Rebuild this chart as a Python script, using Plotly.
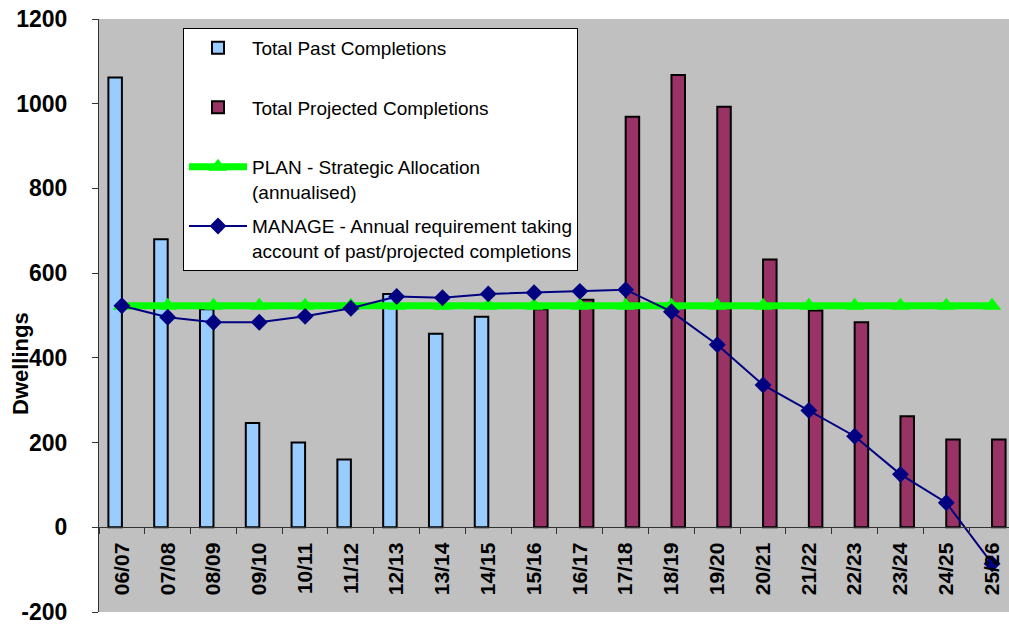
import plotly.graph_objects as go

categories = ["06/07", "07/08", "08/09", "09/10", "10/11", "11/12", "12/13", "13/14",
              "14/15", "15/16", "16/17", "17/18", "18/19", "19/20", "20/21", "21/22",
              "22/23", "23/24", "24/25", "25/26"]

past_completions = [1062, 680, 515, 246, 200, 160, 551, 457, 497,
                    None, None, None, None, None, None, None, None, None, None, None]

projected_completions = [None, None, None, None, None, None, None, None, None,
                         515, 537, 969, 1068, 993, 632, 512, 484, 262, 207, 207]

plan_allocation = [523, 523, 523, 523, 523, 523, 523, 523, 523, 523,
                   523, 523, 523, 523, 523, 523, 523, 523, 523, 523]

manage_requirement = [523, 496, 484, 484, 498, 517, 545, 542, 551, 554,
                      557, 561, 509, 431, 336, 276, 215, 125, 58, -86]

y_ticks = [-200, 0, 200, 400, 600, 800, 1000, 1200]
y_tick_labels = ["-200", "0", "200", "400", "600", "800", "1000", "1200"]

FONT = "Arial, Liberation Sans, sans-serif"

W, H = 1009, 625
ML, MR, MT, MB = 99, 0, 19, 13
PW, PH = W - ML - MR, H - MT - MB

fig = go.Figure()

fig.add_trace(go.Bar(
    x=categories, y=past_completions, name="Total Past Completions<br>\u00a0",
    marker=dict(color="#99CCFF", line=dict(color="black", width=2)),
    legendgroup="a",
))
fig.add_trace(go.Bar(
    x=categories, y=projected_completions, name="Total Projected Completions<br>\u00a0",
    marker=dict(color="#993366", line=dict(color="black", width=2)),
    legendgroup="b",
))
fig.add_trace(go.Scatter(
    x=categories, y=plan_allocation, mode="lines+markers",
    name="PLAN - Strategic Allocation<br>(annualised)",
    line=dict(color="#00FF00", width=7),
    marker=dict(symbol="triangle-up", size=16, color="#00FF00"),
    legendgroup="c",
))
fig.add_trace(go.Scatter(
    x=categories, y=manage_requirement, mode="lines+markers",
    name="MANAGE - Annual requirement taking<br>account of past/projected completions",
    line=dict(color="#000080", width=2),
    marker=dict(symbol="diamond", size=13, color="#000080"),
    legendgroup="d",
))

fig.update_layout(
    width=W, height=H,
    margin=dict(l=ML, r=MR, t=MT, b=MB, autoexpand=False),
    paper_bgcolor="white",
    plot_bgcolor="#C0C0C0",
    barmode="group",
    bargap=0.41,
    bargroupgap=0,
    font=dict(family=FONT, color="black"),
    showlegend=True,
    legend=dict(
        x=(183 - ML) / PW, y=1 - (28 - MT) / PH, xanchor="left", yanchor="top",
        bgcolor="white", bordercolor="black", borderwidth=1,
        font=dict(family=FONT, size=19, color="black"),
        itemwidth=58, valign="top", traceorder="grouped", tracegroupgap=7,
    ),
    xaxis=dict(
        type="category",
        range=[-0.5, 19.37],
        anchor="free",
        position=200 / 1400,
        automargin=False,
        showline=True, linecolor="#333333", linewidth=1,
        ticks="outside", ticklen=6, tickcolor="#333333",
        tickson="boundaries",
        tickangle=-90,
        tickfont=dict(family=FONT, size=21, color="black", weight="bold"),
        ticklabelstandoff=6,
        showgrid=False, zeroline=False,
    ),
    yaxis=dict(
        range=[-200, 1200],
        tickvals=y_ticks,
        ticktext=y_tick_labels,
        automargin=False,
        ticklabeloverflow="allow",
        showline=True, linecolor="#333333", linewidth=1,
        ticks="outside", ticklen=6, tickcolor="#333333",
        tickfont=dict(family=FONT, size=23, color="black", weight="bold"),
        ticklabelstandoff=20,
        showgrid=False, zeroline=False,
    ),
    annotations=[dict(
        text="Dwellings", textangle=-90, showarrow=False,
        xref="paper", yref="paper",
        x=(20 - ML) / PW, y=(MT + PH - 364) / PH,
        xanchor="center", yanchor="middle",
        font=dict(family=FONT, size=22, color="black", weight="bold"),
    )],
)

fig.write_html(
    "out.html",
    config={"displayModeBar": False},
    post_script="document.body.style.margin='0';document.body.style.overflow='hidden';",
)
